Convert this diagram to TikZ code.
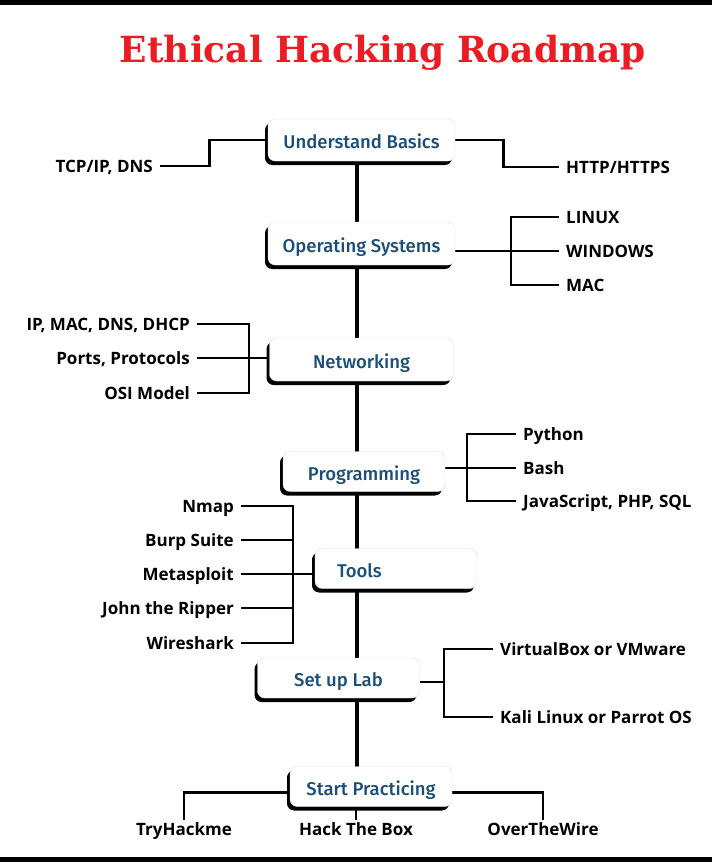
\documentclass[tikz,border=0pt]{standalone}
\usepackage{fontspec}
\setmainfont{Open Sans}
\newfontfamily\titlefont{DejaVu Serif}
\newfontfamily\stagefont{Fira Sans Medium}
\usetikzlibrary{positioning,backgrounds,shadows}
\definecolor{titlered}{RGB}{236,28,36}
\definecolor{stageblue}{RGB}{27,78,120}
\tikzset{
  stage/.style={draw=black!12,fill=white,rounded corners=2.5mm,minimum width=162pt,minimum height=40pt,
    font=\stagefont\fontsize{18.5}{20}\selectfont,text=stageblue,text height=17.5pt,text depth=0pt,
    drop shadow={shadow xshift=-3pt,shadow yshift=-4pt,opacity=1,fill=black}},
  lab/.style={font=\bfseries\fontsize{17}{19}\selectfont,inner xsep=7pt,inner ysep=3pt,text height=12pt,text depth=0pt},
  trunk/.style={line width=4.2pt},
  link/.style={line width=2.8pt}
}
\begin{document}
\begin{tikzpicture}[x=1pt,y=-1pt]
  \useasboundingbox (0,0) rectangle (712,867);
  \fill[black] (0,0) rectangle (712,5);
  \fill[black] (0,857) rectangle (712,862);
  \node[font=\titlefont\bfseries\fontsize{36}{42}\selectfont,text=titlered,anchor=base] (title) at (383,63) {Ethical Hacking Roadmap};

  % stages
  \node[stage,minimum width=187pt,minimum height=42pt] (basics) at (361.5,140) {Understand Basics};
  \node[stage,minimum width=187pt,minimum height=43pt] (os) at (361.5,243.5) {Operating Systems};
  \node[stage,minimum width=184pt,minimum height=43pt] (net) at (361.5,359.5) {Networking};
  \node[stage] (prog) at (364,471.5) {Programming};
  \node[stage,text width=118pt,inner xsep=22pt,align=left] (tools) at (396,568.5) {Tools};
  \node[stage] (lab) at (338.5,678) {Set up Lab};
  \node[stage] (start) at (371,786.5) {Start Practicing};

  % topics
  \node[lab,anchor=east] (tcp) at (160,166) {TCP/IP, DNS};
  \node[lab,anchor=west] (http) at (559,167) {HTTP/HTTPS};
  \node[lab,anchor=west] (linux) at (559,217) {LINUX};
  \node[lab,anchor=west] (win) at (559,251) {WINDOWS};
  \node[lab,anchor=west] (mac) at (559,285) {MAC};
  \node[lab,anchor=east] (ipmac) at (197,324) {IP, MAC, DNS, DHCP};
  \node[lab,anchor=east] (ports) at (197,358) {Ports, Protocols};
  \node[lab,anchor=east] (osi) at (197,393) {OSI Model};
  \node[lab,anchor=west] (python) at (516,434) {Python};
  \node[lab,anchor=west] (bash) at (516,468) {Bash};
  \node[lab,anchor=west] (js) at (516,501) {JavaScript, PHP, SQL};
  \node[lab,anchor=east] (nmap) at (241,506) {Nmap};
  \node[lab,anchor=east] (burp) at (241,540) {Burp Suite};
  \node[lab,anchor=east] (meta) at (241,574) {Metasploit};
  \node[lab,anchor=east] (john) at (241,608) {John the Ripper};
  \node[lab,anchor=east] (shark) at (241,643) {Wireshark};
  \node[lab,anchor=west] (vbox) at (493,649) {VirtualBox or VMware};
  \node[lab,anchor=west] (kali) at (493,717) {Kali Linux or Parrot OS};
  \node[lab] (thm) at (184,829) {TryHackme};
  \node[lab] (htb) at (356,829) {Hack The Box};
  \node[lab] (otw) at (543,829) {OverTheWire};

  \begin{scope}[on background layer]
    \fill[white] (0,5) rectangle (712,857);
    \coordinate (spine) at (357,0);
    \draw[trunk] (spine |- basics.center) -- (spine |- start.center);
    \draw[link] (basics.west) -- ++(-58,0) |- (tcp.east);
    \draw[link] (basics.east) -- ++(48,0) |- (http.west);
    \draw[link] (linux.west) -- ++(-48,0) |- (mac.west);
    \draw[link] (os.east |- win.west) -- (win.west);
    \draw[link] (ipmac.east) -- ++(52,0) |- (osi.east);
    \draw[link] (ports.east) -- (net.west |- ports.east);
    \draw[link] (python.west) -- ++(-49,0) |- (js.west);
    \draw[link] (prog.east |- bash.west) -- (bash.west);
    \draw[link] (nmap.east) -- ++(52,0) |- (shark.east);
    \draw[link] (burp.east) -- ++(52,0);
    \draw[link] (john.east) -- ++(52,0);
    \draw[link] (meta.east) -- (tools.west |- meta.east);
    \draw[link] (vbox.west) -- ++(-49,0) |- (kali.west);
    \draw[link] ([yshift=-4pt]lab.east) -- ++(24,0);
    \draw[link] (thm.north) |- ([yshift=-6pt]start.west);
    \draw[link] (otw.north) |- ([yshift=-6pt]start.east);
    \draw[link] (start.south -| htb.north) -- (htb.north);
  \end{scope}
\end{tikzpicture}
\end{document}
